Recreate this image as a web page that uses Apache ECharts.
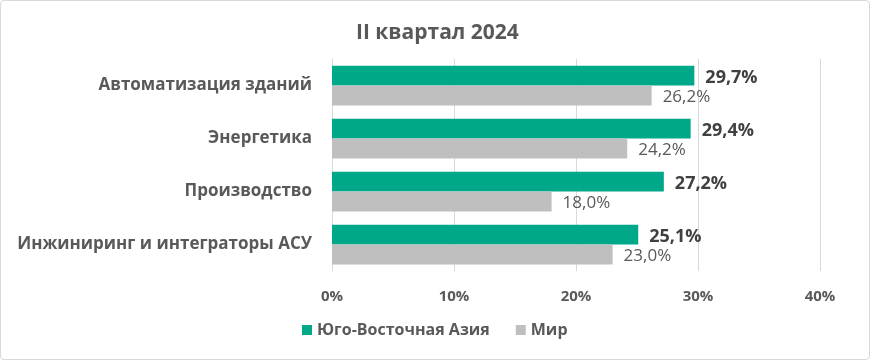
<!DOCTYPE html>
<html><head><meta charset="utf-8">
<script src="https://cdn.jsdelivr.net/npm/echarts@6/dist/echarts.min.js"></script>
<style>
html,body{margin:0;padding:0;background:#fff;}
#c{position:absolute;left:0;top:0;width:868px;height:358px;border:1px solid #d9d9d9;border-radius:4px;}
</style></head><body>
<div id="c"></div>
<script>
const categories = ["Автоматизация зданий", "Энергетика", "Производство", "Инжиниринг и интеграторы АСУ"];
const seriesNames = ["Юго-Восточная Азия", "Мир"];
const seaValues = [29.7, 29.4, 27.2, 25.1];
const worldValues = [26.2, 24.2, 18.0, 23.0];
const titleText = "II квартал 2024";

const FONT = "'Open Sans', 'Noto Sans', sans-serif";
const chart = echarts.init(document.getElementById('c'), null, {renderer:'canvas'});
const fmt = v => v.value.toFixed(1).replace('.', ',') + '%';
chart.setOption({
  animation:false,
  textStyle:{fontFamily:FONT},
  title:{text:titleText,left:355,top:22,padding:0,
    textStyle:{fontFamily:FONT,fontSize:21,fontWeight:'bold',color:'#595959'}},
  legend:{data:seriesNames,left:296,top:316,itemWidth:10,itemHeight:10,itemGap:26,icon:'rect',
    textStyle:{fontFamily:FONT,fontSize:16,color:'#595959',fontWeight:'bold'}},
  grid:{left:331,right:49,top:58,height:212,containLabel:false},
  xAxis:{type:'value',min:0,max:40,interval:10,
    axisLabel:{formatter:v=>v+'%',color:'#595959',fontSize:15,fontWeight:'bold',margin:18,fontFamily:FONT},
    axisLine:{show:false},axisTick:{show:false},
    splitLine:{lineStyle:{color:'#d9d9d9',width:1}}},
  yAxis:{type:'category',data:categories,inverse:true,
    axisLabel:{color:'#595959',fontSize:17,fontWeight:'bold',margin:20,fontFamily:FONT},
    axisLine:{show:true,lineStyle:{color:'#d9d9d9'}},axisTick:{show:false}},
  series:[
    {name:seriesNames[0],type:'bar',data:seaValues,barGap:'0%',barCategoryGap:'25%',
      itemStyle:{color:'#00A88A'},
      label:{show:true,position:'right',distance:11,formatter:fmt,color:'#404040',fontSize:18,fontWeight:'bold',fontFamily:FONT,offset:[0,2]}},
    {name:seriesNames[1],type:'bar',data:worldValues,barGap:'0%',barCategoryGap:'25%',
      itemStyle:{color:'#BFBFBF'},
      label:{show:true,position:'right',distance:11,formatter:fmt,color:'#595959',fontSize:17,fontFamily:FONT,offset:[0,2]}}
  ]
});
</script></body></html>
